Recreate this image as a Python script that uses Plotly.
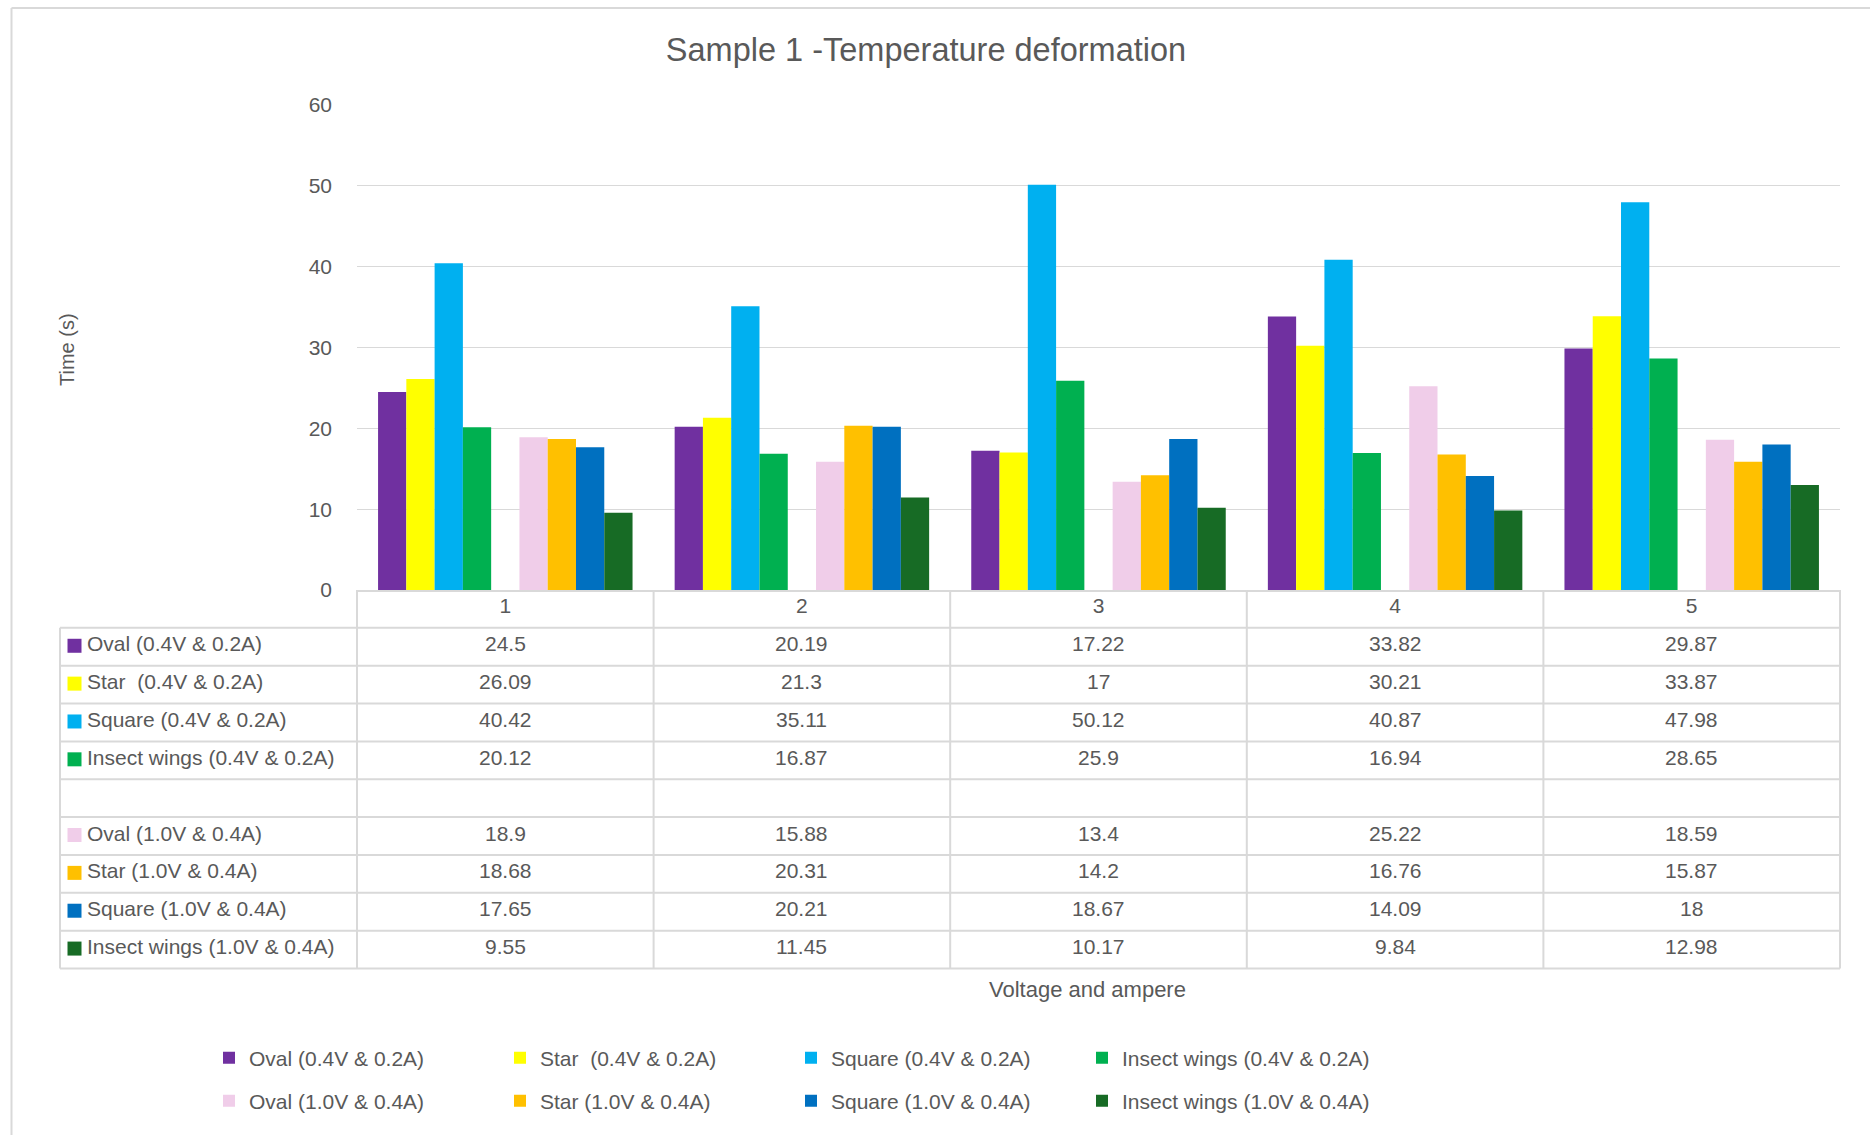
import plotly.graph_objects as go

# ---- data ---------------------------------------------------------------
categories = ["1", "2", "3", "4", "5"]

series_names = [
    "Oval (0.4V & 0.2A)",
    "Star\u00a0 (0.4V & 0.2A)",
    "Square (0.4V & 0.2A)",
    "Insect wings (0.4V & 0.2A)",
    "Oval (1.0V & 0.4A)",
    "Star (1.0V & 0.4A)",
    "Square (1.0V & 0.4A)",
    "Insect wings (1.0V & 0.4A)",
]

oval_low = [24.5, 20.19, 17.22, 33.82, 29.87]
star_low = [26.09, 21.3, 17, 30.21, 33.87]
square_low = [40.42, 35.11, 50.12, 40.87, 47.98]
wings_low = [20.12, 16.87, 25.9, 16.94, 28.65]
oval_high = [18.9, 15.88, 13.4, 25.22, 18.59]
star_high = [18.68, 20.31, 14.2, 16.76, 15.87]
square_high = [17.65, 20.21, 18.67, 14.09, 18]
wings_high = [9.55, 11.45, 10.17, 9.84, 12.98]

y_ticks = [0, 10, 20, 30, 40, 50, 60]

series_values = [oval_low, star_low, square_low, wings_low,
                 oval_high, star_high, square_high, wings_high]
series_colors = ["#7030A0", "#FFFF00", "#00B0F0", "#00B050",
                 "#F0CDE9", "#FFC000", "#0070C0", "#176B25"]

# ---- page geometry (pixels) ---------------------------------------------
W, H = 1870, 1135
PL, PR, PT, PB = 357, 1840, 105, 590          # plot area edges
PW, PH = PR - PL, PB - PT
ROW_H = 37.85                                 # data-table row height
TABLE_LEFT = 60

FONT = "Liberation Sans, Arial, sans-serif"
TEXT = "#595959"
LINE = "#D9D9D9"
BODY = 21


def px_x(x):
    return (x - PL) / PW


def px_y(y):
    return (PB - y) / PH


fig = go.Figure()

# first four series, an empty spacer series, then the last four
for i in range(4):
    fig.add_trace(go.Bar(x=categories, y=series_values[i], name=series_names[i],
                         marker=dict(color=series_colors[i], line=dict(width=0)),
                         legend="legend"))
fig.add_trace(go.Bar(x=categories, y=[None] * len(categories), name=" ",
                     showlegend=False, hoverinfo="skip"))
for i in range(4, 8):
    fig.add_trace(go.Bar(x=categories, y=series_values[i], name=series_names[i],
                         marker=dict(color=series_colors[i], line=dict(width=0)),
                         legend="legend2"))

shapes = []
annotations = []

# chart-area frame (left and top edges)
shapes.append(dict(type="line", xref="paper", yref="paper",
                   x0=px_x(11.5), x1=px_x(11.5), y0=px_y(8), y1=px_y(H + 5),
                   line=dict(color=LINE, width=2)))
shapes.append(dict(type="line", xref="paper", yref="paper",
                   x0=px_x(11.5), x1=px_x(W + 5), y0=px_y(8), y1=px_y(8),
                   line=dict(color=LINE, width=2)))

# data table below the plot: header row + 8 series rows with a blank row in between
table_rows = series_names[:4] + [None] + series_names[4:]
table_vals = series_values[:4] + [None] + series_values[4:]
table_cols = series_colors[:4] + [None] + series_colors[4:]
n_rows = 1 + len(table_rows)
table_bottom = PB + n_rows * ROW_H

for r in range(1, n_rows + 1):
    y = PB + r * ROW_H
    shapes.append(dict(type="line", xref="paper", yref="paper",
                       x0=px_x(TABLE_LEFT), x1=1, y0=px_y(y), y1=px_y(y),
                       line=dict(color=LINE, width=2)))
shapes.append(dict(type="line", xref="paper", yref="paper",
                   x0=px_x(TABLE_LEFT), x1=px_x(TABLE_LEFT),
                   y0=px_y(PB + ROW_H), y1=px_y(table_bottom),
                   line=dict(color=LINE, width=2)))
for k in range(len(categories) + 1):
    xk = k / len(categories)
    shapes.append(dict(type="line", xref="paper", yref="paper",
                       x0=xk, x1=xk, y0=0, y1=px_y(table_bottom),
                       line=dict(color=LINE, width=2)))

for r, (name, vals, col) in enumerate(zip(table_rows, table_vals, table_cols), start=1):
    if name is None:
        continue
    yc = PB + (r + 0.5) * ROW_H
    shapes.append(dict(type="rect", xref="paper", yref="paper",
                       x0=px_x(67.5), x1=px_x(81.5),
                       y0=px_y(yc - 8), y1=px_y(yc + 6),
                       fillcolor=col, line=dict(width=0)))
    annotations.append(dict(xref="paper", yref="paper", x=px_x(85), y=px_y(yc - 3),
                            text=name, showarrow=False, xanchor="left", yanchor="middle",
                            font=dict(family=FONT, size=BODY, color=TEXT)))
    # category position given by index so numeric-looking names are not misread
    for ci, v in enumerate(vals):
        annotations.append(dict(xref="x", yref="paper", x=ci, y=px_y(yc - 3),
                                text=f"{v:g}", showarrow=False,
                                xanchor="center", yanchor="middle",
                                font=dict(family=FONT, size=BODY, color=TEXT)))

# axis titles
annotations.append(dict(xref="paper", yref="paper", x=px_x(67), y=px_y(350),
                        text="Time (s)", textangle=-90, showarrow=False,
                        xanchor="center", yanchor="middle",
                        font=dict(family=FONT, size=20, color=TEXT)))
annotations.append(dict(xref="paper", yref="paper", x=px_x(1087), y=px_y(989),
                        text="Voltage and ampere", showarrow=False,
                        xanchor="center", yanchor="middle",
                        font=dict(family=FONT, size=22, color=TEXT)))

legend_style = dict(orientation="h", xanchor="left", yanchor="middle",
                    x=px_x(209), entrywidth=246, entrywidthmode="pixels",
                    bgcolor="rgba(0,0,0,0)", traceorder="normal",
                    font=dict(family=FONT, size=BODY, color=TEXT))

fig.update_layout(
    width=W, height=H,
    margin=dict(l=PL, r=W - PR, t=PT, b=H - PB, pad=0),
    paper_bgcolor="white", plot_bgcolor="white",
    barmode="group", bargap=0.142, bargroupgap=0,
    title=dict(text="Sample 1 -Temperature deformation",
               x=926 / W, xref="container", xanchor="center",
               y=1 - 50 / H, yref="container", yanchor="middle",
               font=dict(family=FONT, size=32.5, color=TEXT)),
    xaxis=dict(type="category", range=[-0.5, len(categories) - 0.5],
               showgrid=False, zeroline=False,
               showline=True, linecolor=LINE, linewidth=2,
               ticks="", ticklabelstandoff=-4,
               tickfont=dict(family=FONT, size=BODY, color=TEXT)),
    yaxis=dict(range=[0, 60], tickvals=y_ticks, showgrid=True,
               gridcolor=LINE, gridwidth=1.3, zeroline=False, showline=False,
               ticks="", ticklabelstandoff=24,
               tickfont=dict(family=FONT, size=BODY, color=TEXT)),
    legend=dict(legend_style, y=px_y(1058)),
    legend2=dict(legend_style, y=px_y(1101)),
    shapes=shapes,
    annotations=annotations,
    showlegend=True,
)

fig.write_html("out.html")
